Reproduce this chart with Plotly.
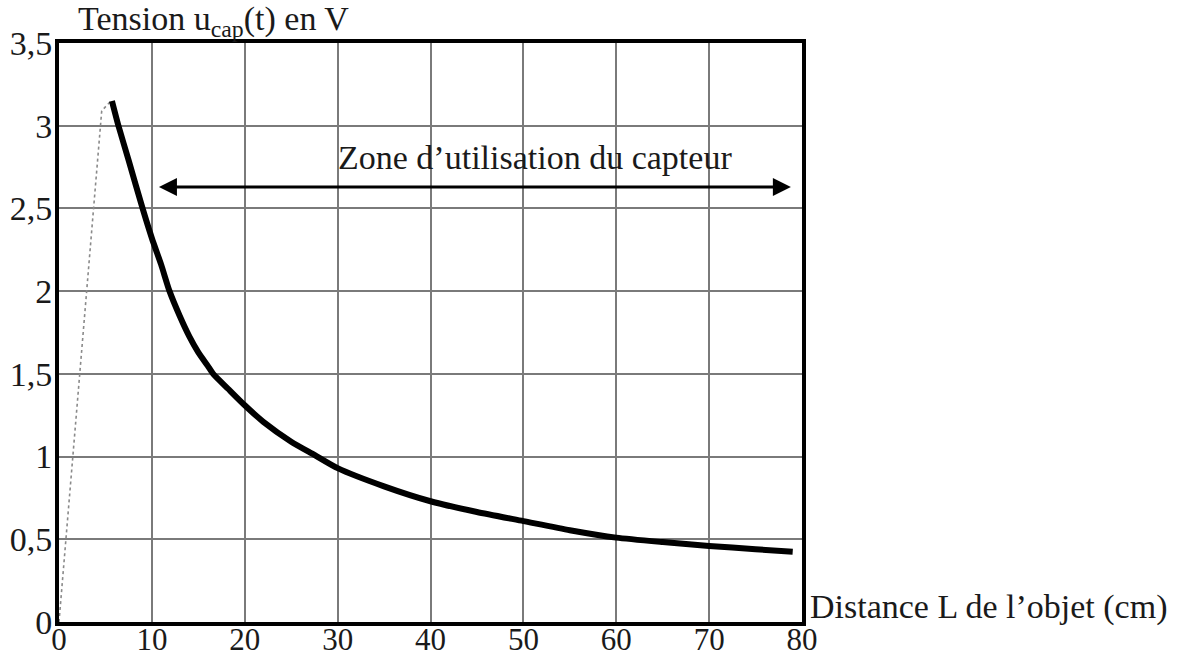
import plotly.graph_objects as go

# Measured curve (thick) : distance (cm) -> tension (V)
dist_cm = [5.7, 6.4, 7.5, 9.0, 10, 11, 11.9, 13, 14, 15, 16, 16.6, 18.2, 20, 22, 25,
           27.5, 30, 35, 40, 45, 50, 55, 60, 65, 70, 75, 79]
tension_v = [3.15, 3.00, 2.79, 2.50, 2.32, 2.16, 2.00, 1.85, 1.73, 1.63, 1.55, 1.50,
             1.41, 1.31, 1.21, 1.09, 1.01, 0.93, 0.82, 0.73, 0.665, 0.61, 0.555,
             0.51, 0.483, 0.46, 0.44, 0.425]

# Thin grey part (outside the usable zone)
dist_low = [0, 4.6, 5.6]
tension_low = [0, 3.09, 3.15]

x_ticks = [0, 10, 20, 30, 40, 50, 60, 70, 80]
y_ticks = [0, 0.5, 1, 1.5, 2, 2.5, 3, 3.5]
y_ticktext = ["0", "0,5", "1", "1,5", "2", "2,5", "3", "3,5"]

zone_start = 10.6
zone_end = 78.8
zone_level = 2.63
zone_label = "Zone d\u2019utilisation du capteur"
zone_label_x = 51.3
zone_label_y = 2.81

FONT = "Liberation Serif, Times New Roman, serif"
TXT = "#1a1a1a"
FS = 34

fig = go.Figure()
fig.add_trace(go.Scatter(x=dist_low, y=tension_low, mode="lines",
                         line=dict(color="#8a8a8a", width=1.6, dash="dot"),
                         showlegend=False, hoverinfo="skip"))
fig.add_trace(go.Scatter(x=dist_cm, y=tension_v, mode="lines",
                         line=dict(color="black", width=6, shape="spline", smoothing=0.6),
                         showlegend=False))

# double-headed arrow for the usable zone
fig.add_annotation(x=zone_end, y=zone_level, ax=zone_start, ay=zone_level,
                   xref="x", yref="y", axref="x", ayref="y", text="",
                   showarrow=True, arrowhead=2, startarrowhead=2,
                   arrowside="end+start", arrowsize=1.2, startarrowsize=1.2,
                   arrowwidth=3, arrowcolor="black")
fig.add_annotation(x=zone_label_x, y=zone_label_y, xref="x", yref="y",
                   text=zone_label, showarrow=False, yanchor="middle",
                   font=dict(family=FONT, size=FS, color=TXT))

# axis titles as text
fig.add_annotation(x=0.023, y=1.038, xref="paper", yref="paper", xanchor="left",
                   yanchor="middle",
                   text="Tension u<sub>cap</sub>(t) en V", showarrow=False,
                   font=dict(family=FONT, size=FS, color=TXT))
fig.add_annotation(x=1.008, y=0.026, xref="paper", yref="paper", xanchor="left",
                   yanchor="middle", text="Distance L de l\u2019objet (cm)",
                   showarrow=False, font=dict(family=FONT, size=FS, color=TXT))

fig.update_xaxes(range=[0, 80], tickvals=x_ticks, ticktext=[str(v) for v in x_ticks],
                 showgrid=True, gridcolor="#7a7a7a", gridwidth=2,
                 showline=True, linecolor="black", linewidth=4, mirror=True,
                 ticks="", zeroline=False, automargin=False, ticklabelstandoff=-13,
                 tickfont=dict(family=FONT, size=31, color=TXT))
fig.update_yaxes(range=[0, 3.5], tickvals=y_ticks, ticktext=y_ticktext,
                 showgrid=True, gridcolor="#7a7a7a", gridwidth=2,
                 showline=True, linecolor="black", linewidth=4, mirror=True,
                 ticks="", zeroline=False, automargin=False, ticklabelstandoff=-4,
                 tickfont=dict(family=FONT, size=FS, color=TXT))

fig.update_layout(width=1180, height=657, margin=dict(l=59, r=378, t=43, b=35),
                  plot_bgcolor="white", paper_bgcolor="white")

fig.write_html("out.html")
